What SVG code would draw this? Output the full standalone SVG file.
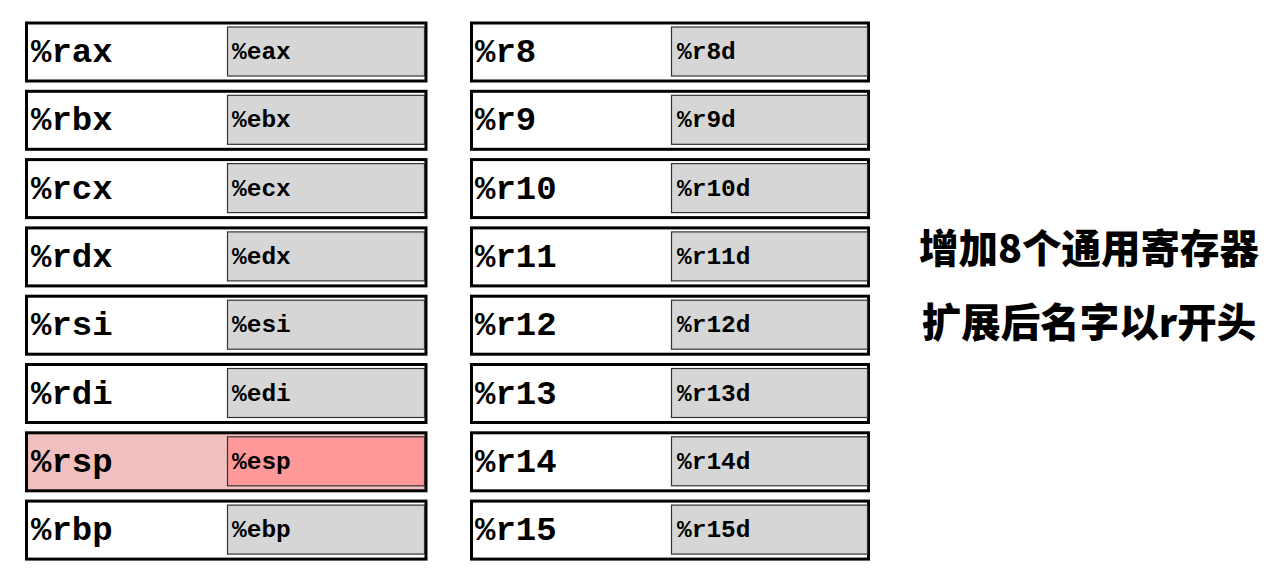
<svg xmlns="http://www.w3.org/2000/svg" width="1273" height="572" viewBox="0 0 1273 572">
<style>
.outer{fill:#fff;stroke:#000;stroke-width:3}
.inner{fill:#d6d6d6;stroke:#333;stroke-width:1.2}
.big{font-family:"Liberation Mono","Courier New",monospace;font-weight:bold;font-size:34px;fill:#000}
.small{font-family:"Liberation Mono","Courier New",monospace;font-weight:bold;font-size:24.5px;fill:#000}
.cn{font-family:"Noto Sans CJK SC",sans-serif;font-weight:900;font-size:39.5px;fill:#000;text-anchor:middle}
</style>
<rect width="1273" height="572" fill="#fff"/>
<g id="reg-rax"><rect class="outer" x="26.5" y="23" width="399.5" height="58"/><rect class="inner" x="227.5" y="27" width="197" height="49"/><text class="big" x="31" y="62">%rax</text><text class="small" x="232" y="59">%eax</text></g>
<g id="reg-rbx"><rect class="outer" x="26.5" y="91.3" width="399.5" height="58"/><rect class="inner" x="227.5" y="95.3" width="197" height="49"/><text class="big" x="31" y="130.3">%rbx</text><text class="small" x="232" y="127.3">%ebx</text></g>
<g id="reg-rcx"><rect class="outer" x="26.5" y="159.6" width="399.5" height="58"/><rect class="inner" x="227.5" y="163.6" width="197" height="49"/><text class="big" x="31" y="198.6">%rcx</text><text class="small" x="232" y="195.6">%ecx</text></g>
<g id="reg-rdx"><rect class="outer" x="26.5" y="227.9" width="399.5" height="58"/><rect class="inner" x="227.5" y="231.9" width="197" height="49"/><text class="big" x="31" y="266.9">%rdx</text><text class="small" x="232" y="263.9">%edx</text></g>
<g id="reg-rsi"><rect class="outer" x="26.5" y="296.2" width="399.5" height="58"/><rect class="inner" x="227.5" y="300.2" width="197" height="49"/><text class="big" x="31" y="335.2">%rsi</text><text class="small" x="232" y="332.2">%esi</text></g>
<g id="reg-rdi"><rect class="outer" x="26.5" y="364.5" width="399.5" height="58"/><rect class="inner" x="227.5" y="368.5" width="197" height="49"/><text class="big" x="31" y="403.5">%rdi</text><text class="small" x="232" y="400.5">%edi</text></g>
<g id="reg-rsp"><rect class="outer" x="26.5" y="432.8" width="399.5" height="58" style="fill:#f0c0c0"/><rect class="inner" x="227.5" y="436.8" width="197" height="49" style="fill:#ff9999"/><text class="big" x="31" y="471.8">%rsp</text><text class="small" x="232" y="468.8">%esp</text></g>
<g id="reg-rbp"><rect class="outer" x="26.5" y="501.1" width="399.5" height="58"/><rect class="inner" x="227.5" y="505.1" width="197" height="49"/><text class="big" x="31" y="540.1">%rbp</text><text class="small" x="232" y="537.1">%ebp</text></g>

<g id="reg-r8"><rect class="outer" x="471.5" y="23" width="397" height="58"/><rect class="inner" x="671.5" y="27" width="196" height="49"/><text class="big" x="475" y="62">%r8</text><text class="small" x="677" y="59">%r8d</text></g>
<g id="reg-r9"><rect class="outer" x="471.5" y="91.3" width="397" height="58"/><rect class="inner" x="671.5" y="95.3" width="196" height="49"/><text class="big" x="475" y="130.3">%r9</text><text class="small" x="677" y="127.3">%r9d</text></g>
<g id="reg-r10"><rect class="outer" x="471.5" y="159.6" width="397" height="58"/><rect class="inner" x="671.5" y="163.6" width="196" height="49"/><text class="big" x="475" y="198.6">%r10</text><text class="small" x="677" y="195.6">%r10d</text></g>
<g id="reg-r11"><rect class="outer" x="471.5" y="227.9" width="397" height="58"/><rect class="inner" x="671.5" y="231.9" width="196" height="49"/><text class="big" x="475" y="266.9">%r11</text><text class="small" x="677" y="263.9">%r11d</text></g>
<g id="reg-r12"><rect class="outer" x="471.5" y="296.2" width="397" height="58"/><rect class="inner" x="671.5" y="300.2" width="196" height="49"/><text class="big" x="475" y="335.2">%r12</text><text class="small" x="677" y="332.2">%r12d</text></g>
<g id="reg-r13"><rect class="outer" x="471.5" y="364.5" width="397" height="58"/><rect class="inner" x="671.5" y="368.5" width="196" height="49"/><text class="big" x="475" y="403.5">%r13</text><text class="small" x="677" y="400.5">%r13d</text></g>
<g id="reg-r14"><rect class="outer" x="471.5" y="432.8" width="397" height="58"/><rect class="inner" x="671.5" y="436.8" width="196" height="49"/><text class="big" x="475" y="471.8">%r14</text><text class="small" x="677" y="468.8">%r14d</text></g>
<g id="reg-r15"><rect class="outer" x="471.5" y="501.1" width="397" height="58"/><rect class="inner" x="671.5" y="505.1" width="196" height="49"/><text class="big" x="475" y="540.1">%r15</text><text class="small" x="677" y="537.1">%r15d</text></g>

<g id="note">
<text class="cn" x="1089" y="263">增加8个通用寄存器</text>
<text class="cn" x="1089" y="337">扩展后名字以r开头</text>
</g>
<g id="connectors"/>
</svg>
